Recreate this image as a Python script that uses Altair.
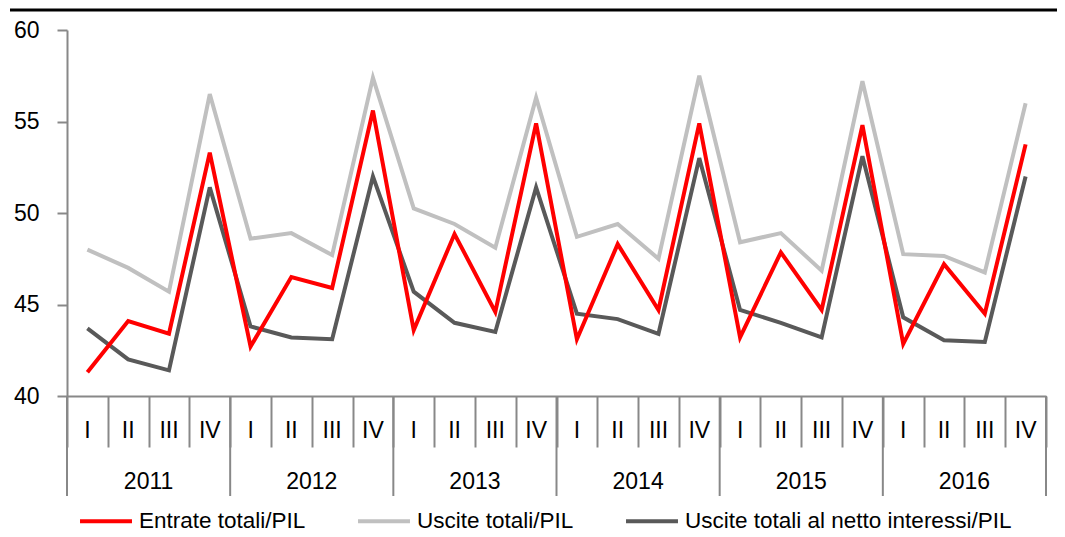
import altair as alt
import pandas as pd

quarters = ["I", "II", "III", "IV"]
years = ["2011", "2012", "2013", "2014", "2015", "2016"]
series_names = ["Entrate totali/PIL", "Uscite totali/PIL", "Uscite totali al netto interessi/PIL"]
series_colors = ["#FF0000", "#C0C0C0", "#595959"]

entrate = [41.3, 44.1, 43.4, 53.3, 42.7, 46.5, 45.9, 55.6, 43.6, 48.85, 44.6, 54.9,
           43.1, 48.3, 44.7, 54.9, 43.2, 47.85, 44.7, 54.8, 42.85, 47.2, 44.5, 53.75]
uscite = [48.0, 47.0, 45.7, 56.5, 48.6, 48.9, 47.7, 57.4, 50.25, 49.4, 48.1, 56.3,
          48.7, 49.4, 47.5, 57.5, 48.4, 48.9, 46.85, 57.2, 47.75, 47.65, 46.75, 56.0]
netto = [43.7, 42.0, 41.4, 51.4, 43.8, 43.2, 43.1, 52.0, 45.7, 44.0, 43.5, 51.4,
         44.5, 44.2, 43.4, 53.0, 44.7, 44.0, 43.2, 53.1, 44.3, 43.05, 42.95, 52.0]

y_ticks = [40, 45, 50, 55, 60]

FONT = "Liberation Sans, Arial, sans-serif"
AXIS_GRAY = "#888888"

W, H = 979, 366
n = len(years) * len(quarters)

rows = []
for name, vals in [(series_names[1], uscite), (series_names[2], netto), (series_names[0], entrate)]:
    for i, v in enumerate(vals):
        rows.append({"series": name, "pos": i + 0.5, "value": v,
                     "year": years[i // 4], "q": quarters[i % 4]})
df = pd.DataFrame(rows)

qdf = pd.DataFrame({"pos": [i + 0.5 for i in range(n)],
                    "label": [quarters[i % 4] for i in range(n)]})
ydf = pd.DataFrame({"pos": [4 * j + 2 for j in range(len(years))], "label": years})
sepdf = pd.DataFrame({"pos": [4 * j for j in range(len(years) + 1)]})

xscale = alt.Scale(domain=[0, n], nice=False, zero=False)

lines = alt.Chart(df).mark_line(strokeWidth=4).encode(
    x=alt.X("pos:Q", scale=xscale,
            axis=alt.Axis(values=list(range(n + 1)), tickSize=51, labels=False, title=None,
                          grid=False, domainColor=AXIS_GRAY, tickColor=AXIS_GRAY,
                          domainWidth=2, tickWidth=2)),
    y=alt.Y("value:Q", scale=alt.Scale(domain=[40, 60], nice=False, zero=False),
            axis=alt.Axis(values=y_ticks, tickSize=10, title=None, grid=False,
                          domainColor=AXIS_GRAY, tickColor=AXIS_GRAY, domainWidth=2, tickWidth=2,
                          labelFont=FONT, labelFontSize=23, labelColor="black", labelPadding=18)),
    color=alt.Color("series:N",
                    scale=alt.Scale(domain=series_names, range=series_colors),
                    legend=alt.Legend(title=None, orient="none", legendX=11, legendY=463,
                                      direction="horizontal", columns=3,
                                      symbolType="stroke", symbolStrokeWidth=4, symbolSize=2700,
                                      labelFont=FONT, labelFontSize=22.5, labelColor="black",
                                      labelOffset=5, columnPadding=44, labelLimit=600)),
    detail="series:N",
)

year_seps = alt.Chart(sepdf).mark_rule(color=AXIS_GRAY, strokeWidth=2).encode(
    x=alt.X("pos:Q", scale=xscale), y=alt.value(H), y2=alt.value(H + 100))

qlabels = alt.Chart(qdf).mark_text(font=FONT, fontSize=23, color="black", baseline="middle").encode(
    x=alt.X("pos:Q", scale=xscale), y=alt.value(H + 35), text="label:N")

ylabels = alt.Chart(ydf).mark_text(font=FONT, fontSize=23, color="black", baseline="middle").encode(
    x=alt.X("pos:Q", scale=xscale), y=alt.value(H + 86), text="label:N")

top_rule = alt.Chart(pd.DataFrame({"a": [0]})).mark_rule(color="black", strokeWidth=3).encode(
    x=alt.value(-57), x2=alt.value(990), y=alt.value(-20))

chart = alt.layer(year_seps, lines, qlabels, ylabels, top_rule).properties(
    width=W, height=H,
    background="white",
    autosize=alt.AutoSizeParams(type="none"),
    padding={"left": 59, "top": 22, "right": 11, "bottom": 141},
).configure_view(stroke=None)

chart.save("out.html", embed_options={"renderer": "svg", "actions": False})
